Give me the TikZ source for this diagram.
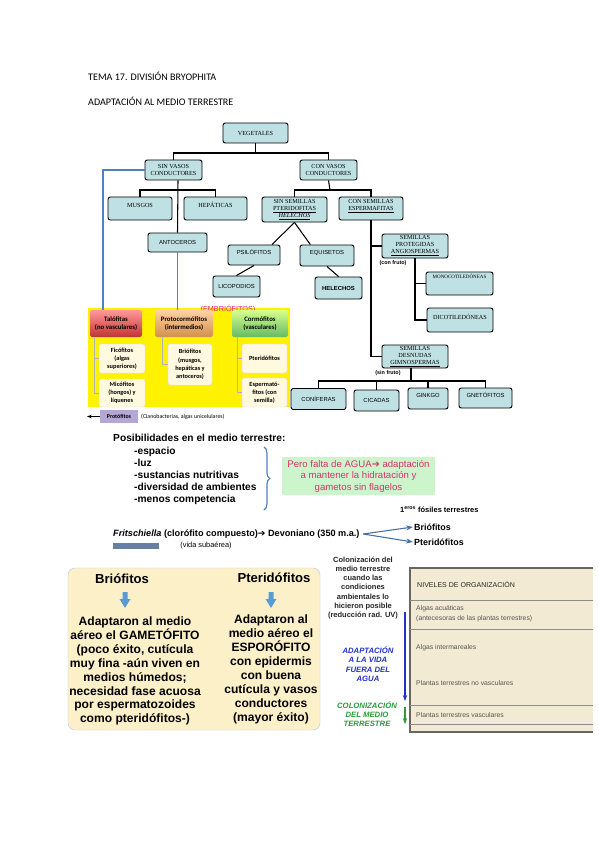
\documentclass[tikz,border=0pt]{standalone}
\usepackage{fontspec}
\setmainfont{Liberation Sans}
\newfontfamily\cabfont{Carlito}
\newfontfamily\arbolfont{Liberation Serif}
\newfontfamily\flfont{DejaVu Sans}
\usepackage{tikz}
\usetikzlibrary{arrows.meta,positioning,decorations.pathreplacing}

\definecolor{cajaazul}{HTML}{BFE1E4}
\definecolor{azulline}{HTML}{4F81BD}
\definecolor{crema}{HTML}{FFF9E0}
\definecolor{lila}{HTML}{B4A7D6}
\definecolor{embrio}{HTML}{E0206E}
\definecolor{verdeclaro}{HTML}{CCF5CC}
\definecolor{textorosa}{HTML}{D6336C}
\definecolor{panel}{HTML}{FCF0C8}
\definecolor{azulflecha}{HTML}{5B9BD5}
\definecolor{azulfuerte}{HTML}{2233CC}
\definecolor{verdeosc}{HTML}{2E9B3A}
\definecolor{beige}{HTML}{F3EAD3}
\definecolor{gristexto}{HTML}{555555}

\begin{document}
\begin{tikzpicture}[x=0.03cm, y=-0.03cm,
  tbox/.style={draw=black, line width=0.8pt, rounded corners=2pt, fill=cajaazul, align=center, inner sep=1pt},
  tserif/.style={tbox, font=\arbolfont\fontsize{5.3}{5.9}\selectfont},
  tsans/.style={tbox, font=\fontsize{5}{6}\selectfont},
  wh/.style 2 args={minimum width=#1*0.03cm, minimum height=#2*0.03cm},
  tline/.style={line width=0.9pt},
  bline/.style={draw=azulline, line width=1pt},
  grupo/.style={rounded corners=2pt, align=center, inner sep=1pt, font=\cabfont\bfseries\fontsize{5.8}{7.4}\selectfont},
  sub/.style={fill=crema, draw=black!12, rounded corners=2pt, align=center, inner sep=1pt, font=\cabfont\bfseries\fontsize{5.4}{7}\selectfont},
  ramita/.style={draw=gray!60, line width=0.5pt},
  txt/.style={inner sep=0pt, align=center},
  flecha/.style={-{Stealth[length=2mm]}, draw=azulline!85!black, line width=0.9pt}
]
\fill[white] (0,0) rectangle (599,848);
\useasboundingbox (0,0) rectangle (599,848);

% cabecera
\node[txt, anchor=west, font=\cabfont\fontsize{8.6}{10}\selectfont] (tema) at (88,76) {TEMA 17. DIVISIÓN BRYOPHITA};
\node[txt, anchor=west, font=\cabfont\fontsize{8.6}{10}\selectfont] (adapt) at (88,101) {ADAPTACIÓN AL MEDIO TERRESTRE};

% arbol de vegetales
\node[tserif, wh={65}{20}] (veg) at (255.5,133) {VEGETALES};
\node[tserif, wh={57}{20}] (sinv) at (173.5,170) {SIN VASOS\\CONDUCTORES};
\node[tserif, wh={57}{20}] (conv) at (328.5,170) {CON VASOS\\CONDUCTORES};
\node[tserif, wh={64}{23}] (musgos) at (140,208.5) {MUSGOS\\~};
\node[tserif, wh={63}{23}] (hepat) at (215.5,208.5) {HEPÁTICAS\\~};
\node[tserif, wh={65}{25}] (sinsem) at (294.5,209.5) {SIN SEMILLAS\\\underline{PTERIDOFITAS}\\\underline{\textit{HELECHOS}}};
\node[tserif, wh={64}{23}] (consem) at (371,208.5) {CON SEMILLAS\\\underline{ESPERMAFITAS}\\~};
\node[tsans, wh={59}{19}] (antoc) at (177.5,242.5) {ANTOCEROS};
\node[tsans, wh={52}{20}] (psilo) at (254,255) {PSILÓFITOS\\~};
\node[tsans, wh={54}{21}] (equis) at (327,255.5) {EQUISETOS\\~};
\node[tsans, wh={47}{21}] (licop) at (236.5,286.5) {LICOPODIOS};
\node[tsans, wh={47}{22}, font=\bfseries\fontsize{5}{6}\selectfont] (helech) at (338.5,288) {HELECHOS};
\node[tserif, wh={66}{24}] (angio) at (415,246) {SEMILLAS\\PROTEGIDAS\\\underline{ANGIOSPERMAS}};
\node[tserif, wh={67}{23}, font=\arbolfont\fontsize{4.3}{5.9}\selectfont] (mono) at (459.5,283.5) {MONOCOTILEDÓNEAS\\~\\~};
\node[tserif, wh={66}{24}] (dico) at (460,320) {DICOTILEDÓNEAS\\~};
\node[tserif, wh={66}{23}] (gimno) at (415,356.5) {SEMILLAS\\DESNUDAS\\\underline{GIMNOSPERMAS}};
\node[tsans, wh={55}{21}] (conif) at (318.5,399) {CONÍFERAS};
\node[tsans, wh={45}{21}] (cicad) at (376.5,400.5) {CICADAS};
\node[tsans, wh={40}{21}] (ginkgo) at (428,398.5) {GINKGO\\~};
\node[tsans, wh={53}{20}] (gneto) at (485.5,398) {GNETÓFITOS\\~};
\node[txt, font=\bfseries\fontsize{4.6}{5}\selectfont] (confruto) at (393,263) {(con fruto)};
\node[txt, font=\bfseries\fontsize{4.6}{5}\selectfont] (sinfruto) at (388,373) {(sin fruto)};

\coordinate (j1) at (255.5,153);
\coordinate (j2) at (178,190);
\coordinate (j3) at (330,190);
\coordinate (j4) at (411,381);
\draw[tline] (veg) -- (j1);
\draw[tline] (sinv.north) |- (j1) -| (conv.north);
\draw[tline] (j2 |- sinv.south) -- (antoc.north);
\draw[tline] (musgos.north) |- (j2) -| (hepat.north);
\draw[tline] (conv.south) -- (j3);
\draw[tline] (sinsem.north) |- (j3) -| (consem.north);
\draw[tline] (sinsem.south) -- ([xshift=0.54cm]psilo.north);
\draw[tline] (sinsem.south) -- ([xshift=-0.5cm]equis.north);
\draw[tline] (psilo.south) -- (licop.north);
\draw[tline] (equis.south) -- (helech.north);
\draw[tline] (consem.south) |- (angio.west);
\draw[tline] (consem.south) |- (gimno.west);
\draw[line width=1.4pt] (angio.south) |- (mono.west);
\draw[line width=1.4pt] (angio.south) |- (dico.west);
\draw[tline] (gimno.south -| j4) -- (j4);
\draw[tline] (conif.north) |- (j4) -| (gneto.north);
\draw[tline] (cicad.north) |- (j4);
\draw[tline] (ginkgo.north) |- (j4);

% embriofitos
\fill[yellow] (88,308) rectangle (290,407);
\node[txt, text=embrio, font=\fontsize{6.2}{7}\selectfont] (embrio) at (228,309) {(EMBRIÓFITOS)};
\node[grupo, wh={52}{27}, top color=red!40, bottom color=red!70!black!80] (talo) at (116,323.5) {Talófitas\\(no vasculares)};
\node[grupo, wh={58}{27}, top color=orange!35, bottom color=orange!75!black!70] (proto) at (184,323.5) {Protocormófitos\\(intermedios)};
\node[grupo, wh={56}{27}, top color=green!35!yellow!45, bottom color=green!55!black!60] (corm) at (260,323.5) {Cormófitos\\(vasculares)};
\node[sub, wh={46}{29}] (fico) at (122,358.5) {Ficófitos\\(algas\\superiores)};
\node[sub, wh={46}{28}] (mico) at (122,393) {Micófitos\\(hongos) y\\líquenes};
\node[sub, wh={44}{41}] (brio) at (190,364.5) {Briófitos\\(musgos,\\hepáticas y\\antoceros)};
\node[sub, wh={45}{29}] (pteri) at (264.5,358.5) {Pteridófitos};
\node[sub, wh={45}{29}] (esper) at (264.5,392.5) {Espermató-\\fitos (con\\semilla)};
\coordinate (tl) at (94,337);
\coordinate (pl) at (162,337);
\coordinate (cl) at (237,337);
\draw[ramita] (tl) |- (fico.west);
\draw[ramita] (tl) |- (mico.west);
\draw[ramita] (pl) |- (brio.west);
\draw[ramita] (cl) |- (pteri.west);
\draw[ramita] (cl) |- (esper.west);
\coordinate (b1) at (103,170);
\draw[bline] (sinv.west) -- (b1) -- (b1 |- talo.north);
\draw[bline] (antoc.south) -- (antoc.south |- proto.north);

\node[fill=lila, wh={38}{13}, inner sep=1pt, font=\cabfont\bfseries\fontsize{5}{6}\selectfont] (protof) at (119,416.5) {Protófitos};
\coordinate (pizq) at (87,416.5);
\draw[-{Stealth[length=1.4mm]}, line width=0.7pt] (protof.west) -- (pizq);
\node[txt, anchor=west, font=\cabfont\fontsize{5}{6}\selectfont] (ciano) at (141,416.5) {(Cianobacterias, algas unicelulares)};

% posibilidades
\node[txt, anchor=west, font=\bfseries\fontsize{8.7}{10}\selectfont] (posib) at (113,438) {Posibilidades en el medio terrestre:};
\node[txt, anchor=west, align=left, font=\bfseries\fontsize{8.7}{10.3}\selectfont] (lista) at (134,475.5) {-espacio\\-luz\\-sustancias nutritivas\\-diversidad de ambientes\\-menos competencia};
\coordinate (ll1) at (264,447);
\coordinate (ll2) at (264,510);
\draw[decorate, decoration={brace, amplitude=5pt}, draw=azulline, line width=1pt] (ll1) -- (ll2);
\node[fill=verdeclaro, wh={153}{38}, inner sep=1pt, align=center, text=textorosa, font=\fontsize{8.2}{9.8}\selectfont] (pero) at (358.5,476) {Pero falta de AGUA{\flfont ➔} adaptación\\a mantener la hidratación y\\gametos sin flagelos};

% fosiles
\node[txt, anchor=west, font=\bfseries\fontsize{6.4}{7}\selectfont] (fosiles) at (400,510) {1\textsuperscript{eros} fósiles terrestres};
\node[txt, anchor=west, font=\bfseries\fontsize{7.8}{8.5}\selectfont] (fritsch) at (113,534) {\textit{Fritschiella} (clorófito compuesto){\flfont ➔} Devoniano (350 m.a.)};
\node[txt, font=\fontsize{6.3}{7}\selectfont] (subaer) at (206,546) {(vida subaérea)};
\fill[azulline!55!gray] (113,543) rectangle (159,549);
\node[txt, anchor=west, font=\bfseries\fontsize{7.6}{8}\selectfont] (brio2) at (414,527) {Briófitos};
\node[txt, anchor=west, font=\bfseries\fontsize{7.6}{8}\selectfont] (pteri2) at (414,542) {Pteridófitos};
\draw[flecha] ([xshift=3pt]fritsch.east) -- ([xshift=-1pt]brio2.west);
\draw[flecha] ([xshift=3pt]fritsch.east) -- ([xshift=-1pt]pteri2.west);

% panel briofitos / pteridofitos
\node[fill=panel, draw=azulline!40, rounded corners=6pt, wh={252}{162}, inner sep=0pt] (panelbp) at (194,649) {};
\node[txt, font=\bfseries\fontsize{11.2}{13}\selectfont] (tbrio) at (122,579) {Briófitos};
\node[txt, font=\bfseries\fontsize{11.2}{13}\selectfont] (tpteri) at (274,578) {Pteridófitos};
\foreach \cx in {125,271}
  \fill[azulflecha] (\cx-2.5,592) -- (\cx+2.5,592) -- (\cx+2.5,599) -- (\cx+5.5,599) -- (\cx,608) -- (\cx-5.5,599) -- (\cx-2.5,599) -- cycle;
\node[txt, font=\bfseries\fontsize{10.3}{11.9}\selectfont] (cbrio) at (135,671) {Adaptaron al medio\\aéreo el GAMETÓFITO\\(poco éxito, cutícula\\muy fina -aún viven en\\medios húmedos;\\necesidad fase acuosa\\por espermatozoides\\como pteridófitos-)};
\node[txt, font=\bfseries\fontsize{10.3}{11.9}\selectfont] (cpteri) at (271,669.5) {Adaptaron al\\medio aéreo el\\ESPORÓFITO\\con epidermis\\con buena\\cutícula y vasos\\conductores\\(mayor éxito)};

% colonizacion
\node[txt, text=black!85, font=\bfseries\fontsize{6.4}{7.9}\selectfont] (colon) at (363,588) {Colonización del\\medio terrestre\\cuando las\\condiciones\\ambientales lo\\hicieron posible\\(reducción rad. UV)};
\coordinate (a1) at (405,612);
\coordinate (a2) at (405,701);
\coordinate (a3) at (405,707);
\coordinate (a4) at (405,724);
\draw[-{Stealth[length=1.8mm]}, draw=azulfuerte, line width=0.9pt] (a1) -- (a2);
\draw[-{Stealth[length=1.8mm]}, draw=verdeosc, line width=0.9pt] (a3) -- (a4);
\node[txt, text=azulfuerte, font=\bfseries\itshape\fontsize{6.6}{8}\selectfont] (fuera) at (368,664) {ADAPTACIÓN\\A LA VIDA\\FUERA DEL\\AGUA};
\node[txt, text=verdeosc, font=\bfseries\itshape\fontsize{6.6}{8}\selectfont] (colmed) at (367,714) {COLONIZACIÓN\\DEL MEDIO\\TERRESTRE};

% tabla niveles
\fill[beige] (410,568) rectangle (593,732);
\draw[black!60, line width=1pt] (593,568) -- (410,568) -- (410,732) -- (593,732);
\foreach \fy in {600,629,705,724}
  \draw[black!45, line width=0.5pt] (410,\fy) -- (593,\fy);
\node[txt, anchor=west, text=black!85, font=\fontsize{6}{7}\selectfont] (niveles) at (417,584) {NIVELES DE ORGANIZACIÓN};
\node[txt, anchor=west, align=left, text=gristexto, font=\fontsize{5.8}{8.5}\selectfont] (algas1) at (416,614) {Algas acuáticas\\(antecesoras de las plantas terrestres)};
\node[txt, anchor=west, text=gristexto, font=\fontsize{5.8}{7}\selectfont] (algas2) at (416,648) {Algas intermareales};
\node[txt, anchor=west, text=gristexto, font=\fontsize{5.8}{7}\selectfont] (plnv) at (416,683) {Plantas terrestres no vasculares};
\node[txt, anchor=west, text=gristexto, font=\fontsize{5.8}{7}\selectfont] (plv) at (416,715) {Plantas terrestres vasculares};
\end{tikzpicture}
\end{document}
